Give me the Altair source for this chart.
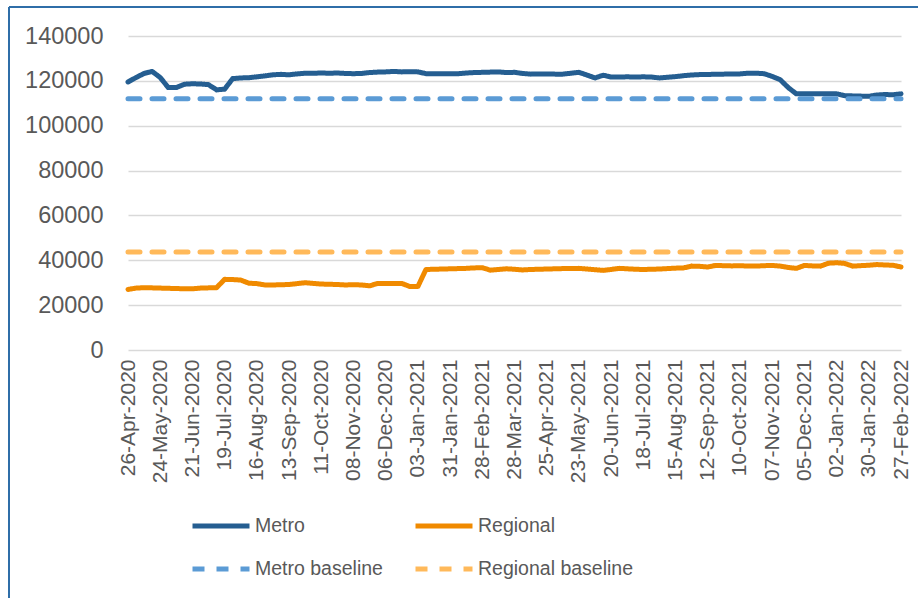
import altair as alt
import pandas as pd

# weekly categories (26 Apr 2020 .. 27 Feb 2022)
weeks = [d.strftime("%d-%b-%Y") for d in pd.date_range("2020-04-26", "2022-02-27", freq="7D")]
tick_labels = weeks[::4]

metro = [119500, 121500, 123300, 124200, 121500, 117000, 117000, 118500, 118700, 118600,
         118300, 116000, 116300, 121000, 121300, 121400, 121800, 122200, 122700, 122900,
         122700, 123100, 123400, 123400, 123500, 123400, 123500, 123300, 123200, 123300,
         123700, 123900, 124000, 124200, 124000, 124100, 124000, 123200, 123200, 123200,
         123200, 123200, 123500, 123700, 123800, 123900, 124000, 123700, 123800, 123300,
         123000, 123100, 123100, 123000, 123000, 123400, 123800, 122600, 121300, 122500,
         121700, 121700, 121800, 121700, 121800, 121700, 121300, 121600, 121900, 122300,
         122600, 122800, 122800, 123000, 123000, 123100, 123100, 123400, 123400, 123200,
         122000, 120500, 117000, 114200, 114200, 114300, 114300, 114300, 114200, 113400,
         113300, 113200, 113100, 113700, 113900, 113800, 114200]

regional = [27000, 27600, 27800, 27700, 27600, 27500, 27400, 27300, 27300, 27600,
            27700, 27800, 31500, 31400, 31200, 29800, 29600, 29000, 29000, 29100,
            29200, 29600, 30000, 29700, 29400, 29300, 29200, 29000, 29100, 29000,
            28600, 29700, 29700, 29600, 29700, 28300, 28300, 35900, 36000, 36100,
            36200, 36300, 36400, 36600, 36700, 35600, 35900, 36200, 36000, 35700,
            35900, 36000, 36100, 36200, 36300, 36300, 36400, 36100, 35800, 35500,
            35900, 36400, 36200, 36000, 35900, 36000, 36100, 36300, 36500, 36600,
            37400, 37300, 37000, 37700, 37600, 37500, 37600, 37400, 37400, 37600,
            37700, 37400, 36800, 36400, 37700, 37500, 37400, 38700, 38900, 38600,
            37400, 37600, 37800, 38100, 37900, 37800, 37000]

metro_baseline = 112000
regional_baseline = 43700

series_names = ["Metro", "Regional", "Metro baseline", "Regional baseline"]
series_colors = ["#255E91", "#F08A00", "#5B9BD5", "#FFB95A"]
series_dash = [[1, 0], [1, 0], [12, 12], [12, 12]]

rows = []
for name, vals in [("Metro", metro), ("Regional", regional),
                   ("Metro baseline", [metro_baseline] * len(weeks)),
                   ("Regional baseline", [regional_baseline] * len(weeks))]:
    for w, v in zip(weeks, vals):
        rows.append({"week": w, "value": v, "series": name})
df = pd.DataFrame(rows)

lines = alt.Chart(df).mark_line(strokeWidth=5, strokeCap="round", strokeJoin="round").encode(
    x=alt.X("week:O", sort=weeks, title=None,
            scale=alt.Scale(type="point", padding=0),
            axis=alt.Axis(values=tick_labels, labelAngle=-90, labelFontSize=21,
                          labelColor="#595959", labelFont="Liberation Sans",
                          labelPadding=9, domain=False, ticks=False, grid=False,
                          labelOverlap=False)),
    y=alt.Y("value:Q", title=None,
            scale=alt.Scale(domain=[0, 140000]),
            axis=alt.Axis(values=list(range(0, 140001, 20000)), format="d",
                          labelFontSize=23.5, labelColor="#595959", labelFont="Liberation Sans",
                          labelPadding=25, domain=False, ticks=False,
                          gridColor="#D9D9D9", gridWidth=1.5)),
    color=alt.Color("series:N", sort=series_names, title=None,
                    scale=alt.Scale(domain=series_names, range=series_colors)),
    strokeDash=alt.StrokeDash("series:N", sort=series_names, title=None,
                              scale=alt.Scale(domain=series_names, range=series_dash)),
    order=alt.Order("series:N"),
)

frame_data = pd.DataFrame({"k": [0]})
frame_left = alt.Chart(frame_data).mark_rule(color="#2F6EA8", strokeWidth=2).encode(
    x=alt.value(-119), y=alt.value(-29), y2=alt.value(570))
frame_top = alt.Chart(frame_data).mark_rule(color="#2F6EA8", strokeWidth=2).encode(
    x=alt.value(-119), x2=alt.value(790), y=alt.value(-29))

chart = alt.layer(lines, frame_left, frame_top).properties(
    width=773, height=314,
    padding={"left": 8, "top": 6, "right": 0, "bottom": 0},
).configure_view(stroke=None).configure_legend(
    orient="none", legendX=62, legendY=459, columns=2, direction="horizontal",
    columnPadding=22, rowPadding=2, labelFontSize=19.5, labelColor="#595959",
    labelFont="Liberation Sans", symbolType="stroke", symbolSize=3249,
    symbolStrokeWidth=5, labelOffset=3, labelLimit=300,
)

chart.save("out.html", embed_options={"renderer": "svg", "actions": False})
